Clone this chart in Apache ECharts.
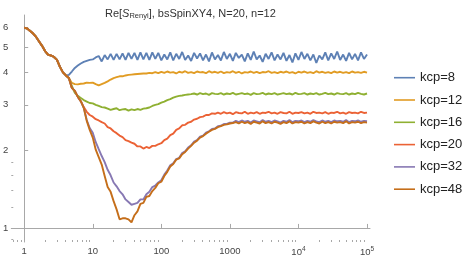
<!DOCTYPE html>
<html>
<head>
<meta charset="utf-8">
<script src="https://cdn.jsdelivr.net/npm/echarts@6/dist/echarts.min.js"></script>
<style>
html,body{margin:0;padding:0;background:#fff;}
#chart{width:468px;height:259px;}
</style>
</head>
<body>
<div id="chart"></div>
<script>
// ---- data ----
const xs = [
 1, 1.105, 1.221, 1.35, 1.492, 1.649, 1.822, 2.014, 2.226, 2.46, 2.719, 3.005, 3.321, 3.67, 4.056, 4.483, 4.954, 5.475, 6.051, 6.687, 7.391, 8.168, 9.027,
 10, 11.05, 12.21, 13.5, 14.92, 16.49, 18.22, 20.14, 22.26, 24.6, 27.19, 30.05, 33.21, 36.7, 40.56, 44.83, 49.54, 54.75, 60.51, 66.87, 73.91, 81.68, 90.27,
 100, 110.5, 122.1, 135, 149.2, 164.9, 182.2, 201.4, 222.6, 246, 271.9, 300.5, 332.1, 367, 405.6, 448.3, 495.4, 547.5, 605.1, 668.7, 739.1, 816.8, 902.7,
 1000, 1105, 1221, 1350, 1492, 1649, 1822, 2014, 2226, 2460, 2719, 3005, 3321, 3670, 4056, 4483, 4954, 5475, 6051, 6687, 7391, 8168, 9027,
 10000, 11050, 12210, 13500, 14920, 16490, 18220, 20140, 22260, 24600, 27190, 30050, 33210, 36700, 40560, 44830, 49540, 54750, 60510, 66870, 73910, 81680, 90270,
 100000
];
// shared early part (all kcp curves coincide)
const start = [5.98, 5.93, 5.80, 5.67, 5.50, 5.28, 5.08, 4.85, 4.70, 4.66, 4.60, 4.48, 4.21, 4.01, 3.90];

const kcp8 = [3.92, 4.04, 4.17, 4.26, 4.34, 4.40, 4.44, 4.48, 4.50, 4.58, 4.64, 4.42, 4.68, 4.50, 4.73, 4.48, 4.73, 4.50, 4.75, 4.48, 4.77, 4.52, 4.77, 4.48, 4.79, 4.50, 4.77, 4.48, 4.79, 4.52, 4.77, 4.46,
 4.70, 4.50, 4.79, 4.46, 4.73, 4.52, 4.81, 4.48, 4.66, 4.44, 4.77, 4.54, 4.75, 4.46, 4.70, 4.42, 4.79, 4.50, 4.68, 4.46,
 4.81, 4.52, 4.73, 4.44, 4.77, 4.56, 4.70, 4.42, 4.75, 4.48, 4.83, 4.50, 4.66, 4.40, 4.73, 4.52, 4.79, 4.46, 4.70, 4.50,
 4.77, 4.44, 4.68, 4.38, 4.75, 4.48, 4.81, 4.52, 4.73, 4.46, 4.70, 4.36, 4.66, 4.50, 4.79, 4.46, 4.75, 4.52, 4.83, 4.48,
 4.70, 4.44, 4.77, 4.50, 4.73, 4.46, 4.79, 4.52, 4.70];
const kcp12 = [3.81, 3.65, 3.61, 3.60, 3.62, 3.63, 3.66, 3.65, 3.66, 3.61, 3.57, 3.61, 3.65, 3.70, 3.76, 3.81, 3.84, 3.87, 3.87, 3.90, 3.92, 3.93, 3.94, 3.95, 3.96, 3.97, 3.97, 3.99, 3.98,
 4.02, 3.98, 4.03, 3.99, 4.04, 4.00, 4.02, 3.97, 4.03, 4.00,
 4.05, 3.99, 4.02, 3.98, 4.04, 4.01, 4.02, 3.98, 4.05, 4.00,
 4.03, 3.99, 4.04, 3.98, 4.02, 4.00, 4.05, 3.99, 4.03, 3.97,
 4.02, 4.00, 4.04, 3.99, 4.03, 3.98, 4.02, 4.01, 4.05, 3.99,
 4.02, 3.98, 4.03, 4.00, 4.04, 3.99, 4.02, 3.97, 4.03, 4.00,
 4.04, 3.99, 4.02, 3.98, 4.05, 4.00, 4.03, 3.99, 4.02, 3.98,
 4.04, 4.00, 4.03, 3.99, 4.02, 3.98, 4.04, 4.00, 4.02, 3.99,
 4.03, 4.00];
const kcp16 = [3.81, 3.55, 3.34, 3.25, 3.19, 3.13, 3.09, 3.05, 3.04, 3.00, 2.97, 2.94, 2.93, 2.90, 2.87, 2.89, 2.91, 2.86, 2.88, 2.89, 2.85, 2.88, 2.86, 2.89, 2.87, 2.90, 2.91, 2.93, 2.97, 3.00, 3.02, 3.06, 3.09, 3.13, 3.16, 3.20, 3.23, 3.25, 3.26, 3.28, 3.29, 3.30,
 3.32, 3.29, 3.33, 3.30, 3.32, 3.28, 3.33, 3.31, 3.30, 3.33,
 3.29, 3.32, 3.30, 3.34, 3.29, 3.31, 3.33, 3.30, 3.32, 3.28,
 3.33, 3.30, 3.31, 3.34, 3.29, 3.32, 3.30, 3.33, 3.29, 3.31,
 3.33, 3.30, 3.32, 3.29, 3.34, 3.30, 3.31, 3.33, 3.29, 3.32,
 3.30, 3.33, 3.29, 3.31, 3.34, 3.30, 3.32, 3.29, 3.33, 3.31,
 3.30, 3.33, 3.29, 3.32, 3.30, 3.34, 3.31, 3.29, 3.32];
const kcp20 = [3.81, 3.49, 3.40, 3.22, 3.10, 2.94, 2.82, 2.74, 2.70, 2.64, 2.61, 2.57, 2.54, 2.46, 2.43, 2.37, 2.33, 2.28, 2.25, 2.19, 2.17, 2.14, 2.12, 2.07, 2.07, 2.03, 2.06, 2.04, 2.08, 2.08, 2.11, 2.13, 2.19, 2.22, 2.29, 2.32, 2.40, 2.43, 2.50, 2.51, 2.56, 2.58, 2.63, 2.65, 2.69, 2.70, 2.74, 2.74, 2.78, 2.77,
 2.80, 2.77, 2.81, 2.78, 2.80, 2.76, 2.81, 2.79, 2.78, 2.82,
 2.77, 2.80, 2.78, 2.81, 2.77, 2.80, 2.79, 2.82, 2.78, 2.80,
 2.77, 2.81, 2.79, 2.78, 2.82, 2.77, 2.80, 2.79, 2.81, 2.78,
 2.80, 2.77, 2.82, 2.79, 2.80, 2.78, 2.81, 2.77, 2.80, 2.79,
 2.82, 2.78, 2.80, 2.77, 2.81, 2.79, 2.80, 2.78, 2.82, 2.79,
 2.80];
const kcp32 = [3.81, 3.49, 3.40, 3.22, 3.10, 2.92, 2.62, 2.44, 2.34, 2.15, 2.02, 1.90, 1.80, 1.68, 1.60, 1.50, 1.45, 1.39, 1.35, 1.29, 1.26, 1.23, 1.24, 1.25, 1.29, 1.29, 1.35, 1.38, 1.44, 1.46, 1.50, 1.53, 1.61, 1.67, 1.75, 1.78, 1.85, 1.87, 1.95, 1.98, 2.05, 2.09, 2.16, 2.19, 2.26, 2.28, 2.34, 2.37, 2.42, 2.43, 2.48, 2.49, 2.53, 2.53, 2.56, 2.56,
 2.60, 2.57, 2.61, 2.58, 2.60, 2.56, 2.61, 2.59, 2.57, 2.62,
 2.58, 2.60, 2.57, 2.61, 2.59, 2.56, 2.60, 2.58, 2.62, 2.57,
 2.60, 2.59, 2.61, 2.57, 2.60, 2.58, 2.62, 2.59, 2.57, 2.61,
 2.58, 2.60, 2.57, 2.61, 2.59, 2.60, 2.58, 2.62, 2.57, 2.60,
 2.59, 2.61, 2.58, 2.60, 2.59];
const kcp48 = [3.81, 3.49, 3.40, 3.22, 3.10, 2.92, 2.60, 2.40, 2.24, 2.01, 1.88, 1.76, 1.59, 1.44, 1.38, 1.27, 1.18, 1.08, 1.09, 1.09, 1.08, 1.05, 1.12, 1.16, 1.24, 1.25, 1.32, 1.33, 1.39, 1.43, 1.49, 1.51, 1.59, 1.65, 1.73, 1.77, 1.84, 1.86, 1.93, 1.97, 2.03, 2.08, 2.14, 2.18, 2.24, 2.27, 2.32, 2.36, 2.40, 2.42, 2.46, 2.48, 2.51, 2.52, 2.54, 2.55,
 2.57, 2.54, 2.58, 2.55, 2.57, 2.53, 2.58, 2.56, 2.54, 2.59,
 2.55, 2.57, 2.54, 2.58, 2.56, 2.53, 2.57, 2.55, 2.59, 2.54,
 2.57, 2.56, 2.58, 2.54, 2.57, 2.55, 2.59, 2.56, 2.54, 2.58,
 2.55, 2.57, 2.54, 2.58, 2.56, 2.57, 2.55, 2.59, 2.54, 2.57,
 2.56, 2.58, 2.55, 2.57, 2.56];

const seriesNames = ['kcp=8', 'kcp=12', 'kcp=16', 'kcp=20', 'kcp=32', 'kcp=48'];
const seriesTails = [kcp8, kcp12, kcp16, kcp20, kcp32, kcp48];
const seriesColors = ['#5E81B5', '#E19C24', '#8FB032', '#EB6235', '#8778B3', '#C56E1A'];

const xTickValues = [1, 10, 100, 1000, 10000, 100000];
const xTickLabels = ['1', '10', '100', '1000', '{b|10}{s|4}', '{b|10}{s|5}'];
const xMinorTicks = [0.7, 0.8, 0.9, 2, 3, 4, 5, 6, 7, 8, 9, 20, 30, 40, 50, 60, 70, 80, 90,
 200, 300, 400, 500, 600, 700, 800, 900, 2000, 3000, 4000, 5000, 6000, 7000, 8000, 9000,
 20000, 30000, 40000, 50000, 60000, 70000, 80000, 90000];
const yTickValues = [1, 2, 3, 4, 5, 6];
const yTickLabels = ['1', '2', '3', '4', '5', '6'];
const yMinorTicks = [0.9, 1.2, 1.4, 1.6, 1.8];

// ---- chart ----
const X_MIN = 0.648, X_MAX = 110500, Y_MIN = 0.882, Y_MAX = 6.69;
const L = Math.log10;
const FONT = 'Liberation Sans, Arial, sans-serif';
const AXIS_COLOR = '#a8a8a8';

function labelFor(values, labels) {
  return function (v) {
    for (let i = 0; i < values.length; i++) {
      if (Math.abs(L(values[i]) - v) < 1e-6) return labels[i];
    }
    return '';
  };
}

const chart = echarts.init(document.getElementById('chart'), null, {renderer: 'canvas'});
const grid = {left: 9, top: 15, width: 361, height: 227};

const option = {
  animation: false,
  backgroundColor: '#fff',
  title: {
    text: '{a|Re[}{i|S}{s|Renyi}{a|], bsSpinXY4, N=20, n=12}',
    left: 100, top: 3,
    textStyle: {
      fontWeight: 'normal',
      rich: {
        a: {fontSize: 11, color: '#333', fontFamily: FONT, fontWeight: 'normal'},
        i: {fontSize: 11, color: '#333', fontFamily: FONT, fontStyle: 'italic', fontWeight: 'normal'},
        s: {fontSize: 7.5, color: '#333', fontFamily: FONT, fontWeight: 'normal', padding: [4, 0, 0, 0]}
      }
    }
  },
  legend: {
    data: seriesNames,
    orient: 'vertical',
    left: 389, top: 65.7,
    itemWidth: 21, itemHeight: 14, itemGap: 8.3,
    icon: 'path://M0,0L21,0L21,1.6L0,1.6Z',
    textStyle: {fontSize: 13, color: '#222', fontFamily: FONT, lineHeight: 14}
  },
  grid: grid,
  xAxis: [
    {type: 'log', logBase: 10, min: X_MIN, max: X_MAX,
     axisLine: {show: false}, axisTick: {show: false}, axisLabel: {show: false}, splitLine: {show: false}},
    {type: 'value', min: L(X_MIN), max: L(X_MAX), position: 'bottom',
     axisLine: {show: true, lineStyle: {color: AXIS_COLOR, width: 1}},
     axisTick: {show: true, inside: true, length: 4, lineStyle: {color: AXIS_COLOR}, customValues: xTickValues.map(L)},
     axisLabel: {show: true, margin: 4, customValues: xTickValues.map(L), formatter: labelFor(xTickValues, xTickLabels),
       color: '#444', fontSize: 9.5, fontFamily: FONT,
       rich: {b: {fontSize: 9.5, color: '#444', fontFamily: FONT}, s: {fontSize: 6.5, color: '#444', fontFamily: FONT, padding: [0, 0, 6, 0]}}},
     splitLine: {show: false}},
    {type: 'value', min: L(X_MIN), max: L(X_MAX), position: 'bottom',
     axisLine: {show: false},
     axisTick: {show: true, inside: true, length: 2, lineStyle: {color: AXIS_COLOR}, customValues: xMinorTicks.map(L)},
     axisLabel: {show: false}, splitLine: {show: false}}
  ],
  yAxis: [
    {type: 'log', logBase: 10, min: Y_MIN, max: Y_MAX,
     axisLine: {show: false}, axisTick: {show: false}, axisLabel: {show: false}, splitLine: {show: false}},
    {type: 'value', min: L(Y_MIN), max: L(Y_MAX), position: 'left',
     axisLine: {show: true, lineStyle: {color: AXIS_COLOR, width: 1}},
     axisTick: {show: true, inside: true, length: 4, lineStyle: {color: AXIS_COLOR}, customValues: yTickValues.map(L)},
     axisLabel: {show: true, margin: 3, customValues: yTickValues.map(L), formatter: labelFor(yTickValues, yTickLabels),
       color: '#444', fontSize: 9.5, fontFamily: FONT},
     splitLine: {show: false}},
    {type: 'value', min: L(Y_MIN), max: L(Y_MAX), position: 'left',
     axisLine: {show: false},
     axisTick: {show: true, inside: true, length: 2, lineStyle: {color: AXIS_COLOR}, customValues: yMinorTicks.map(L)},
     axisLabel: {show: false}, splitLine: {show: false}}
  ],
  series: seriesNames.map(function (name, si) {
    const ys = start.concat(seriesTails[si]);
    return {
      name: name,
      type: 'line',
      xAxisIndex: 0, yAxisIndex: 0,
      data: xs.map(function (x, i) { return [x, ys[i]]; }),
      symbol: 'none', showSymbol: false,
      color: seriesColors[si],
      lineStyle: {width: 1.9, color: seriesColors[si]},
      emphasis: {disabled: true}
    };
  })
};
chart.setOption(option);
</script>
</body>
</html>
